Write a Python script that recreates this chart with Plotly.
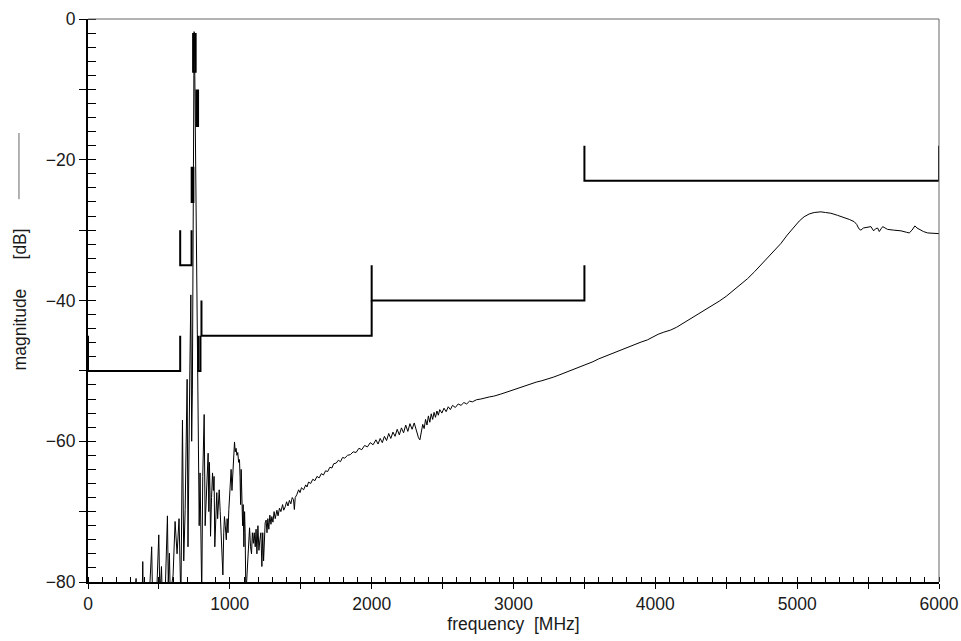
import plotly.graph_objects as go

# ---- spectrum data (frequency in MHz, magnitude in dB) ----
freq = [0, 320, 339, 345, 380, 386, 392, 430, 449, 455, 470, 480, 499, 507, 518, 525, 545, 560, 566, 574,
        580, 600, 614, 620, 628, 642, 648, 655, 666, 675, 685, 692, 699, 705, 711, 718, 725, 731, 736, 742,
        746, 748, 750, 753, 760, 768, 772, 776, 779, 784, 790, 796, 802, 809, 815, 819, 826, 833, 840, 847,
        852, 856, 860, 864, 871, 878, 884, 889, 894, 901, 908, 914, 918, 925, 932, 939, 945, 951, 957, 962,
        968, 975, 981, 987, 993, 1000, 1009, 1015, 1021, 1027, 1033, 1038, 1044, 1050, 1056, 1062, 1068, 1072, 1076, 1080,
        1085, 1090, 1094, 1099, 1104, 1108, 1113, 1120, 1126, 1132, 1139, 1146, 1153, 1159, 1166, 1172, 1179, 1185, 1191, 1198,
        1205, 1212, 1219, 1226, 1232, 1238, 1244, 1249, 1256, 1262, 1268, 1275, 1282, 1290, 1296, 1304, 1312, 1320, 1332, 1340,
        1350, 1360, 1372, 1380, 1391, 1400, 1410, 1420, 1430, 1440, 1449, 1455, 1461, 1472, 1485, 1495, 1505, 1520, 1535, 1544,
        1555, 1570, 1585, 1600, 1614, 1630, 1645, 1660, 1675, 1690, 1705, 1720, 1732, 1750, 1765, 1780, 1795, 1810, 1830, 1850,
        1870, 1890, 1910, 1930, 1950, 1970, 1990, 2010, 2030, 2045, 2060, 2075, 2090, 2105, 2120, 2135, 2150, 2165, 2180, 2195,
        2210, 2225, 2240, 2255, 2270, 2285, 2300, 2315, 2330, 2340, 2350, 2360, 2370, 2380, 2390, 2400, 2410, 2420, 2430, 2440,
        2450, 2460, 2470, 2480, 2495, 2510, 2525, 2540, 2555, 2570, 2590, 2610, 2630, 2650, 2670, 2690, 2710, 2740, 2770, 2800,
        2830, 2860, 2885, 2910, 2940, 2970, 3000, 3040, 3080, 3120, 3160, 3200, 3240, 3280, 3320, 3360, 3400, 3440, 3480, 3520,
        3560, 3600, 3650, 3700, 3750, 3800, 3850, 3900, 3944, 3980, 4020, 4060, 4108, 4150, 4200, 4250, 4300, 4350, 4400, 4450,
        4500, 4550, 4600, 4650, 4700, 4750, 4791, 4840, 4885, 4930, 4979, 5015, 5049, 5085, 5120, 5167, 5200, 5238, 5285, 5332,
        5370, 5402, 5420, 5435, 5449, 5467, 5485, 5505, 5520, 5539, 5553, 5567, 5579, 5592, 5603, 5620, 5638, 5680, 5732, 5770,
        5790, 5810, 5830, 5845, 5861, 5890, 5920, 5960, 6000]

mag = [-85, -85, -79.5, -85, -85, -77.1, -85, -83, -75, -82, -81, -84, -73.3, -82, -77.8, -83, -81, -70.6, -80, -75.9,
       -82, -79, -71.4, -74, -76, -71, -80, -83, -57, -77, -69.7, -62, -51.2, -75, -58.8, -50, -39.2, -60, -52.7, -20,
       -5, -1.8, -2, -8, -25, -38, -41.8, -63, -59.6, -72, -64.5, -75, -82, -65, -60, -56.2, -72, -68.3, -65, -61.7,
       -70, -63, -67, -73.5, -68, -64.5, -67, -65, -75, -70, -67.3, -71, -69, -66.9, -70, -73, -76, -79, -73, -70.7,
       -72, -74, -71, -73, -69.7, -66, -64, -67, -65, -62, -60.1, -61.5, -61, -62, -61.6, -63, -62.6, -65, -69, -64,
       -68.8, -72, -69, -75, -70, -73, -82, -79, -77, -74, -72.3, -75, -76, -73, -74.5, -73, -75, -72.5, -76, -72,
       -75.5, -74, -73, -77.8, -73, -77, -72, -71.6, -71.2, -73, -71, -72.5, -70.5, -71.8, -70.7, -71.5, -70, -71, -69.8, -70.6,
       -69.5, -70, -69, -69.8, -69.3, -68.6, -69.2, -68.4, -68.9, -68, -68.3, -69.7, -68, -67.6, -66.9, -67.3, -66.6, -66.9, -66.2, -66.5,
       -65.8, -66, -65.4, -65.6, -65, -65.2, -64.6, -64.8, -64.2, -64.3, -63.7, -63.8, -63.2, -63.1, -62.7, -62.9, -62.3, -62.4, -62, -61.9,
       -61.5, -61.6, -61, -61.2, -60.6, -60.8, -60.2, -60.5, -59.8, -60.4, -59.6, -60.2, -59.3, -59.9, -58.9, -59.6, -58.7, -59.3, -58.3, -59.1,
       -58.1, -58.8, -57.7, -58.6, -57.5, -58.3, -57.4, -58.5, -59.5, -59.8, -58.6, -57.6, -58.2, -56.9, -57.7, -56.4, -57.3, -56.1, -56.9, -55.9,
       -56.6, -55.7, -56.3, -55.5, -56, -55.3, -55.8, -55.1, -55.5, -54.9, -55.2, -54.7, -54.9, -54.5, -54.7, -54.3, -54.4, -54.1, -54, -53.8,
       -53.7, -53.6, -53.5, -53.3, -53.1, -52.9, -52.7, -52.4, -52.1, -51.8, -51.6, -51.4, -51.2, -50.9, -50.6, -50.3, -50, -49.7, -49.3, -49,
       -48.7, -48.3, -47.9, -47.5, -47.1, -46.6, -46.2, -45.9, -45.6, -45.2, -44.8, -44.5, -44.2, -43.8, -43.2, -42.6, -42, -41.4, -40.8, -40.1,
       -39.4, -38.6, -37.8, -36.9, -35.9, -34.8, -34, -32.9, -31.9, -30.7, -29.5, -28.7, -28.1, -27.7, -27.5, -27.4, -27.5, -27.6, -27.9, -28.2,
       -28.5, -28.8, -29.2, -29.8, -30, -29.7, -29.6, -29.6, -29.5, -30.1, -29.8, -29.7, -30.2, -29.8, -29.5, -29.7, -29.9, -30, -30.1, -30.3,
       -30.4, -30, -29.4, -29.7, -29.9, -30.2, -30.4, -30.5, -30.5]

# ---- limit mask segments ----
mask_start = [0, 650, 731, 741, 764, 777, 800, 2000, 3500]
mask_end = [650, 730, 743, 759, 776, 793, 2000, 3500, 6000]
mask_level = [-50, -35, -26, -7.5, -15.2, -50, -45, -40, -23]
mask_top = [-45, -30, -21, -2, -10, -45, -40, -35, -18]

# ---- tick labels ----
x_tickvals = [0, 500, 1000, 1500, 2000, 2500, 3000, 3500, 4000, 4500, 5000, 5500, 6000]
x_ticktext = ["0", "", "1000", "", "2000", "", "3000", "", "4000", "", "5000", "", "6000"]
y_tickvals = [-80, -70, -60, -50, -40, -30, -20, -10, 0]
y_ticktext = ["\u221280", "", "\u221260", "", "\u221240", "", "\u221220", "", "0"]

mx, my = [], []
for s, e, l, t in zip(mask_start, mask_end, mask_level, mask_top):
    mx += [s, s, e, e, None]
    my += [t, l, l, t, None]

FONT = "Liberation Sans"
FSIZE = 17.5
FCOLOR = "#1a1a1a"

fig = go.Figure()
fig.add_trace(go.Scatter(x=freq, y=mag, mode="lines",
                         line=dict(color="black", width=1), showlegend=False))
fig.add_trace(go.Scatter(x=mx, y=my, mode="lines",
                         line=dict(color="black", width=2), showlegend=False))

axis_common = dict(showgrid=False, zeroline=False, showline=True, linecolor="black",
                   linewidth=2, ticks="outside", tickcolor="black", tickwidth=1,
                   automargin=False, ticklabeloverflow="allow",
                   tickfont=dict(family=FONT, size=FSIZE, color=FCOLOR))

NB = "\u00a0"
fig.update_layout(
    width=961, height=641,
    margin=dict(l=88, r=22, t=19, b=59),
    paper_bgcolor="white", plot_bgcolor="white",
    xaxis=dict(range=[0, 6000], tickmode="array", tickvals=x_tickvals, ticktext=x_ticktext,
               ticklen=5,
               minor=dict(ticks="inside", dtick=100, tick0=0, ticklen=5, tickcolor="black", tickwidth=1),
               title=dict(text="frequency" + NB * 2 + "[MHz]", font=dict(family=FONT, size=FSIZE, color=FCOLOR),
                          standoff=0),
               **axis_common),
    yaxis=dict(range=[-80, 0], tickmode="array", tickvals=y_tickvals, ticktext=y_ticktext,
               ticklen=7,
               minor=dict(ticks="inside", dtick=2, tick0=0, ticklen=8, tickcolor="black", tickwidth=1),
               **axis_common),
    annotations=[dict(text="magnitude" + NB * 6 + "[dB]", textangle=-90, xref="paper", yref="paper",
                      x=-0.0799, y=0.502, showarrow=False, xanchor="center", yanchor="middle",
                      font=dict(family=FONT, size=FSIZE, color=FCOLOR))],
    shapes=[
        dict(type="line", xref="paper", yref="paper", x0=0, x1=1, y0=1, y1=1,
             line=dict(color="#666", width=1)),
        dict(type="line", xref="paper", yref="paper", x0=1, x1=1, y0=0, y1=1,
             line=dict(color="#666", width=1)),
        dict(type="line", xref="paper", yref="paper", x0=-0.0811, x1=-0.0811, y0=0.680, y1=0.7975,
             line=dict(color="#666", width=1)),
    ],
)

fig.write_html("out.html", config={"displayModeBar": False},
               post_script="document.body.style.margin='0';document.body.style.overflow='hidden';")
